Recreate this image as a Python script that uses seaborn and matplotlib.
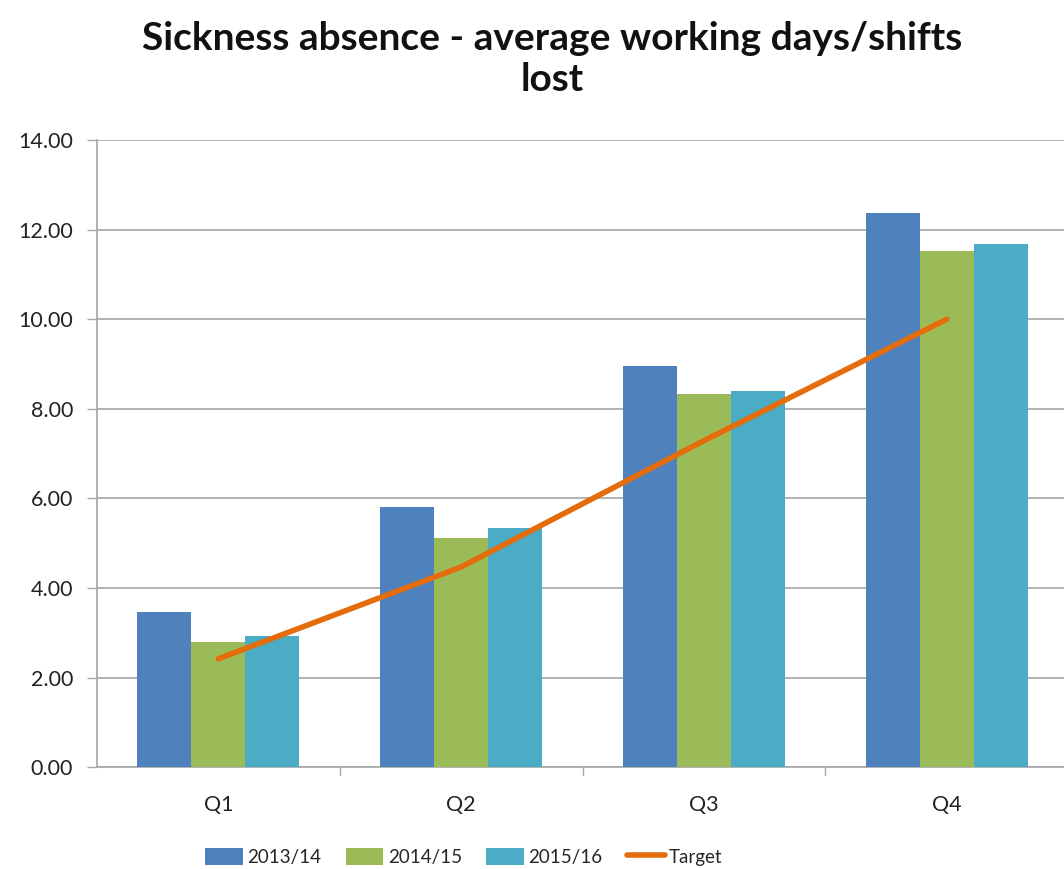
import numpy as np
import pandas as pd
import matplotlib
matplotlib.use("Agg")
import matplotlib.pyplot as plt
import seaborn as sns
from matplotlib.patches import Patch
from matplotlib.lines import Line2D

quarters = ["Q1", "Q2", "Q3", "Q4"]
series = ["2013/14", "2014/15", "2015/16"]
v_2013 = [3.46, 5.81, 8.96, 12.37]
v_2014 = [2.80, 5.11, 8.33, 11.52]
v_2015 = [2.92, 5.34, 8.40, 11.67]
target = [2.42, 4.47, 7.29, 10.00]
yticks = [0, 2, 4, 6, 8, 10, 12, 14]

colors = ["#4F81BD", "#9BBB59", "#4BACC6"]
line_color = "#E46C0A"

df = pd.DataFrame({
    "Quarter": quarters * 3,
    "Series": [s for s in series for _ in quarters],
    "Value": v_2013 + v_2014 + v_2015,
})

sns.set_style("white")
plt.rcParams["font.family"] = ["Lato", "DejaVu Sans"]

fig = plt.figure(figsize=(10.64, 8.69), dpi=100)
ax = fig.add_axes([0.091, 0.117, 0.913, 0.722])

sns.barplot(data=df, x="Quarter", y="Value", hue="Series", order=quarters,
            hue_order=series, palette=colors, saturation=1, width=0.667,
            errorbar=None, ax=ax, legend=False, linewidth=0, zorder=3)

ax.plot(np.arange(len(quarters)), target, color=line_color, linewidth=4,
        solid_capstyle="round", zorder=4)

ax.set_xlim(-0.5, 3.5)
ax.set_ylim(0, 14)
ax.set_yticks(yticks)
ax.set_yticklabels([f"{t:.2f}" for t in yticks], fontsize=15.5, color="#222222")
ax.set_xticks(range(len(quarters)))
ax.set_xticklabels(quarters, fontsize=15.5, color="#222222")
ax.tick_params(axis="x", length=0, pad=20)
ax.tick_params(axis="y", length=7, width=1, color="#A6A6A6", direction="out", pad=10, left=True)
ax.yaxis.grid(True, color="#A6A6A6", linewidth=1.2, zorder=0)
ax.set_axisbelow(True)
for b in [0.5, 1.5, 2.5]:
    ax.plot([b, b], [0, -0.18], color="#A6A6A6", linewidth=1, clip_on=False)
ax.set_xlabel("")
ax.set_ylabel("")
for s in ["top", "right"]:
    ax.spines[s].set_visible(False)
ax.spines["left"].set_color("#A6A6A6")
ax.spines["bottom"].set_color("#A6A6A6")
ax.spines["left"].set_linewidth(1.2)
ax.spines["bottom"].set_linewidth(1.2)

fig.text(0.519, 0.932, "Sickness absence - average working days/shifts\nlost",
         ha="center", va="center", fontsize=28, fontweight="bold",
         color="#111111", linespacing=1.2)

handles = [Patch(facecolor=c, edgecolor="none") for c in colors]
handles.append(Line2D([0], [0], color=line_color, linewidth=4))
fig.legend(handles, series + ["Target"], loc="center", bbox_to_anchor=(0.436, 0.014),
           ncol=4, frameon=False, fontsize=13.5, handlelength=2.0, handleheight=1.0,
           columnspacing=1.3, handletextpad=0.25, borderpad=0, borderaxespad=0)

fig.savefig("out.png", dpi=100)
